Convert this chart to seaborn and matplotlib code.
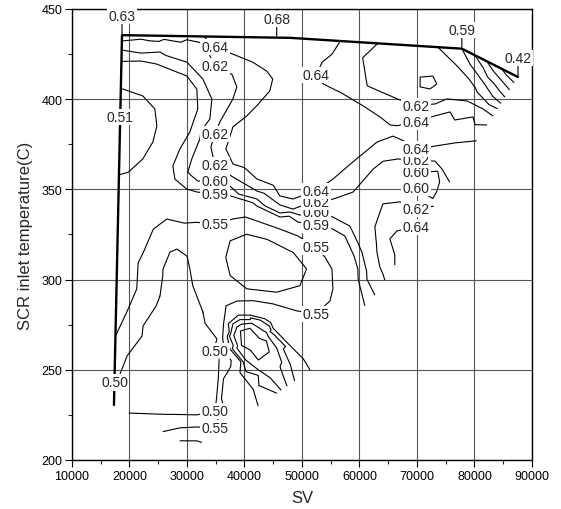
import numpy as np
import matplotlib
matplotlib.use("Agg")
import matplotlib.pyplot as plt
import matplotlib.tri as mtri
from matplotlib.ticker import MultipleLocator, FormatStrFormatter
import seaborn as sns
import pandas as pd

# ---------------------------------------------------------------- data
# measured operating path (heavy outline)
path_sv = [17300, 18700, 48000, 77800, 87560]
path_t = [230.5, 435.5, 434.0, 428.0, 412.3]

# posted efficiencies on the path
post_sv = [18700, 45600, 77800, 87560, 18420, 17420]
post_t = [435.5, 434.1, 428.0, 412.3, 390.0, 243.0]
post_eff = [0.63, 0.68, 0.59, 0.42, 0.51, 0.50]

# samples (SV, T)
iso064_west = [(34870, 428.9), (38000, 425.0), (41500, 420.5), (43910, 415.6), (44950, 411.2),
               (44430, 404.5), (42500, 397.5), (40430, 390.7), (38000, 384.6), (36780, 372.4),
               (38000, 364.1), (42170, 355.8), (46170, 346.4), (48430, 344.7), (52430, 349.3),
               (55390, 355.8), (58000, 363.0), (60080, 368.5), (63040, 376.3), (65820, 379.6),
               (69820, 372.4), (73000, 374.0), (77000, 376.0)]
iso064_north = [(55200, 425.0), (53480, 420.6), (52430, 413.4), (53650, 408.4), (57130, 402.9),
                (60500, 396.5), (63560, 390.1), (65300, 385.7), (66520, 385.2), (69820, 387.5),
                (73130, 390.7), (75730, 392.9), (79730, 390.1)]
iso064_loop = [(39300, 271.5), (40950, 273.0), (43800, 266.0), (44300, 260.0), (42400, 255.5),
               (39500, 263.5)]
iso064_se = [(65300, 322.5), (66520, 326.9), (69820, 329.3)]

iso062_main = [(22000, 433.3), (26000, 433.2), (30000, 433.0), (32260, 431.5), (33800, 425.5),
               (34870, 418.4), (37830, 413.9), (38700, 406.8), (38000, 400.1), (35740, 387.4),
               (34870, 380.7), (34170, 373.5), (34870, 363.5), (38000, 356.9), (42170, 349.1),
               (46170, 341.4), (48430, 339.1), (52430, 342.8), (55390, 344.7), (58860, 348.6),
               (62340, 361.3), (64080, 365.7), (66520, 366.9), (69820, 366.3), (73130, 365.7),
               (74350, 361.3)]
iso062_ne = [(60500, 423.0), (58860, 417.9), (59210, 412.3), (61300, 407.3), (64000, 403.5),
             (66520, 400.1), (69820, 396.4), (73130, 397.3), (75210, 400.1), (78690, 399.0),
             (81470, 394.6)]
iso062_south = [(63040, 315.3), (62690, 329.2), (64080, 341.9), (67040, 343.0), (69820, 339.1)]
iso062_bump = [(44500, 245.5), (42400, 250.0), (40200, 255.5), (38700, 262.0), (38150, 269.0),
               (38700, 273.8), (39510, 275.3), (41250, 275.8), (43860, 270.5), (45600, 262.0),
               (46470, 254.2)]

iso060_main = [(25300, 426.2), (30000, 420.6), (32780, 411.2), (34350, 400.1), (34000, 389.0),
               (32260, 377.9), (30870, 366.9), (30170, 359.6), (30870, 357.4), (31910, 354.7),
               (34870, 354.7), (37480, 351.9), (42170, 344.7), (47910, 337.5), (49650, 335.8),
               (52430, 337.3), (55390, 334.7), (58340, 329.7), (60430, 315.3), (61300, 300.3)]
iso060_bump = [(42400, 246.9), (39790, 254.3), (38050, 263.5), (37600, 270.0), (38000, 275.5),
               (39220, 277.8), (41000, 277.8), (44430, 271.2), (46750, 261.5), (47910, 253.2)]
iso060_dip = [(67040, 354.1), (69820, 359.4), (73650, 360.2), (74000, 354.1), (73480, 348.6),
              (72780, 344.7), (69820, 350.6)]
iso060_pent = [(70520, 412.3), (72780, 412.9), (73480, 408.4), (72260, 405.6), (70520, 406.8)]
iso060_fan = [(76950, 418.4), (80430, 404.0), (82500, 397.0)]

iso059_main = [(24780, 419.5), (30000, 412.9), (31740, 405.6), (31910, 394.6), (30520, 381.8),
               (28780, 372.4), (27560, 363.0), (27910, 355.8), (30000, 350.2), (31740, 348.6),
               (34870, 347.5), (37480, 346.5), (42170, 340.8), (46170, 334.7), (49300, 331.9),
               (52430, 330.5), (55390, 328.0), (57470, 324.2), (59730, 305.9)]
iso059_bump = [(41530, 239.2), (39220, 248.5), (37480, 261.5), (37000, 268.5), (37190, 275.5),
               (38920, 280.3), (41000, 280.3), (44990, 273.0), (47910, 263.4), (50230, 256.0)]
iso059_bottom = [(29600, 210.6), (31700, 210.6)]
iso059_fan = [(79200, 419.5), (81500, 409.5), (83200, 401.5)]

iso055_bulge = [(22350, 401.8), (24430, 394.6), (24780, 385.2), (24090, 376.3), (22350, 366.9),
                (19800, 359.5)]
iso055_main = [(19510, 281.9), (21250, 294.8), (22400, 315.1), (24140, 328.0), (26470, 333.6),
               (31690, 331.8), (34870, 330.8), (38000, 333.6), (42170, 332.5), (46170, 328.0),
               (49300, 324.2), (52430, 317.9), (54000, 312.5), (55220, 305.9), (55390, 294.8),
               (54870, 288.1), (52430, 281.0), (49130, 282.6), (45000, 286.5), (41500, 288.3),
               (38700, 288.1), (36800, 285.4), (36350, 275.0), (36450, 260.0), (36350, 245.0),
               (36000, 234.0), (35300, 222.0), (34870, 217.6), (31740, 218.3), (28780, 217.8)]
iso055_fan = [(81500, 417.5), (83300, 409.0), (84500, 404.0)]

iso050_arch = [(18000, 244.9), (19570, 257.7), (22350, 274.3), (25300, 290.9), (25820, 305.9),
               (27040, 315.3), (28260, 317.0), (30000, 313.1), (30520, 305.9), (31040, 296.4),
               (32780, 282.0), (35220, 267.1), (35600, 256.0), (35450, 245.0), (35150, 234.0),
               (34870, 227.2), (31740, 224.9), (27000, 225.2), (23560, 225.5)]
iso050_ellipse = [(36720, 312.4), (37480, 321.6), (40380, 325.3), (43860, 322.5), (48490, 315.1),
                  (50820, 305.9), (49650, 296.5), (45600, 292.9), (40380, 294.8), (37480, 302.2)]
iso050_fan = [(83300, 415.5), (84800, 410.0), (85600, 407.0)]
iso045_fan = [(85500, 413.5), (86300, 411.0)]

# samples along the rim of the measured region (SV, T, efficiency)
rim_samples = [
    (25000, 434.98, 0.63), (30000, 434.72, 0.632), (33000, 434.57, 0.64), (40000, 434.21, 0.665),
    (48000, 434.0, 0.675), (52000, 433.0, 0.665), (56610, 432.07, 0.64), (60000, 431.38, 0.63),
    (63040, 430.77, 0.62), (68000, 429.77, 0.61), (73650, 428.64, 0.60), (80100, 424.1, 0.55),
    (82200, 420.72, 0.50), (84800, 416.54, 0.45),
    (17300, 230.5, 0.485), (17600, 269.0, 0.55), (17815, 300.0, 0.56), (17950, 320.0, 0.565),
    (18090, 340.0, 0.563), (18210, 358.0, 0.55), (18330, 375.0, 0.525), (18540, 406.0, 0.55),
    (18590, 414.0, 0.57), (18640, 421.0, 0.59), (18680, 427.3, 0.60), (18715, 432.3, 0.62),
    (19900, 225.9, 0.50), (25800, 215.7, 0.55), (29100, 209.8, 0.595), (32000, 208.5, 0.593),
    (33500, 211.6, 0.585), (38000, 220.0, 0.565), (40000, 224.6, 0.575), (42400, 229.9, 0.59),
    (43000, 231.0, 0.594), (45650, 237.0, 0.60), (46400, 238.65, 0.62), (46900, 239.75, 0.628),
    (47400, 240.85, 0.62), (48000, 242.0, 0.612), (48700, 243.75, 0.60), (50000, 246.65, 0.595),
    (51390, 249.8, 0.59), (52000, 251.0, 0.585), (55000, 264.5, 0.575), (58000, 276.0, 0.58),
    (60950, 285.5, 0.59), (62000, 288.0, 0.595), (62690, 291.45, 0.60), (64430, 299.7, 0.62),
    (65300, 303.85, 0.63), (66000, 307.0, 0.637), (66170, 308.0, 0.64), (68000, 316.85, 0.65),
    (70600, 329.45, 0.64), (71800, 335.3, 0.63), (72900, 340.6, 0.62), (74300, 347.4, 0.605),
    (75700, 354.0, 0.62), (78000, 365.35, 0.63), (80400, 377.05, 0.64), (81300, 381.45, 0.646),
    (82170, 385.65, 0.64), (83200, 390.7, 0.62), (83500, 392.0, 0.61), (84000, 394.65, 0.60),
    (84600, 397.65, 0.59), (85300, 401.15, 0.55), (86100, 405.15, 0.50), (86900, 409.15, 0.45),
]

# interior samples (SV, T, efficiency)
inner_samples = [
    (40000, 428.5, 0.65), (45000, 428.0, 0.67), (48500, 422.0, 0.675), (49500, 410.0, 0.672),
    (48000, 395.0, 0.675), (46000, 380.0, 0.67), (42000, 375.0, 0.662), (41500, 366.0, 0.655),
    (47000, 358.0, 0.66), (52000, 360.0, 0.658), (50500, 380.0, 0.672), (54500, 395.0, 0.665),
    (55500, 370.0, 0.655), (58500, 378.0, 0.655), (50000, 430.0, 0.672), (52500, 426.0, 0.655),
    (60000, 385.0, 0.655), (63500, 383.0, 0.65), (68000, 380.5, 0.647), (72000, 382.0, 0.647),
    (76000, 384.0, 0.646), (79500, 383.5, 0.645),
    (56500, 416.0, 0.63), (58000, 426.0, 0.63), (60000, 402.0, 0.63), (66000, 393.0, 0.63),
    (72000, 393.5, 0.63), (77500, 395.7, 0.63), (81300, 390.5, 0.63),
    (64500, 418.0, 0.612), (68000, 418.0, 0.61), (71700, 409.3, 0.595), (69500, 401.5, 0.61),
    (75200, 410.0, 0.607), (78800, 403.0, 0.61), (72500, 420.0, 0.605),
    (22000, 429.8, 0.61), (28000, 429.0, 0.61), (36300, 402.0, 0.61), (34400, 383.0, 0.61),
    (32500, 366.0, 0.61), (33500, 359.5, 0.61), (22000, 423.5, 0.595), (33100, 400.0, 0.595),
    (30000, 372.0, 0.595),
    (36000, 423.0, 0.63), (41000, 410.0, 0.63), (39000, 395.0, 0.63), (35800, 377.0, 0.63),
    (37000, 365.0, 0.63),
    (44000, 349.5, 0.63), (50500, 344.0, 0.63), (57000, 352.0, 0.63), (62000, 368.0, 0.63),
    (67500, 371.5, 0.63), (73000, 370.0, 0.63),
    (58500, 339.0, 0.61), (62000, 345.0, 0.612), (65500, 353.0, 0.608), (61800, 318.0, 0.61),
    (62800, 303.0, 0.61), (61000, 333.0, 0.61), (55390, 339.7, 0.61),
    (71000, 354.5, 0.595), (69820, 362.8, 0.61), (69820, 345.0, 0.61),
    (65000, 333.0, 0.63), (68000, 335.0, 0.63), (64300, 311.0, 0.63), (67600, 322.0, 0.648),
    (20000, 340.0, 0.57), (25000, 345.0, 0.575), (30000, 338.0, 0.57), (33500, 339.0, 0.57),
    (40000, 338.5, 0.57), (47500, 330.5, 0.57), (54500, 320.0, 0.57), (57000, 310.0, 0.575),
    (20000, 310.0, 0.565), (21000, 330.0, 0.565), (27000, 400.0, 0.57), (26800, 382.0, 0.57),
    (22000, 412.0, 0.57), (24500, 362.0, 0.565), (21500, 350.0, 0.565),
    (20500, 385.0, 0.525), (22000, 390.0, 0.535),
    (45000, 280.0, 0.57), (49000, 273.0, 0.57), (53500, 275.0, 0.565), (56000, 290.0, 0.565),
    (56500, 280.0, 0.57), (55600, 285.0, 0.562),
    (57500, 300.0, 0.575), (37500, 245.0, 0.57), (39000, 235.0, 0.575), (37000, 228.0, 0.565),
    (45300, 251.0, 0.63), (41650, 265.0, 0.655),
    (25000, 221.0, 0.525), (33000, 222.0, 0.525), (35900, 262.0, 0.525), (34500, 285.0, 0.52),
    (33500, 305.0, 0.52), (30000, 322.0, 0.525), (24000, 308.0, 0.525), (20500, 270.0, 0.52),
    (23300, 292.0, 0.525), (25300, 318.0, 0.525), (29000, 323.0, 0.525), (33000, 292.0, 0.52),
    (27000, 270.0, 0.465), (22000, 245.0, 0.47), (31000, 245.0, 0.47), (33000, 250.0, 0.48),
    (28000, 300.0, 0.485), (20000, 236.0, 0.49), (26000, 236.0, 0.48),
    (20500, 252.0, 0.49), (23000, 268.0, 0.49), (25200, 283.0, 0.49), (26500, 300.0, 0.49),
    (27800, 310.0, 0.49), (29500, 308.0, 0.49), (30500, 295.0, 0.49), (32500, 276.0, 0.49),
    (34300, 262.0, 0.49), (34600, 245.0, 0.49), (33800, 236.0, 0.49), (29500, 236.0, 0.49),
    (23000, 237.0, 0.49),
    (36500, 300.0, 0.525), (53000, 302.0, 0.525), (35000, 318.0, 0.525),
    (43500, 309.0, 0.485), (39500, 310.0, 0.49), (47500, 307.0, 0.49),
    (30500, 214.3, 0.57),
]

levels = [0.45, 0.50, 0.55, 0.59, 0.60, 0.62, 0.64]

# contour label placement (level, SV, T)
label_level = [0.64, 0.62, 0.62, 0.62, 0.60, 0.59, 0.55, 0.50, 0.50, 0.55,
               0.64, 0.64, 0.62, 0.60, 0.59, 0.55, 0.55,
               0.62, 0.64, 0.64, 0.62, 0.60, 0.60, 0.62, 0.64]
label_sv = [34870] * 10 + [52430] * 7 + [69820] * 8
label_t = [428.9, 418.4, 380.7, 363.5, 354.7, 347.5, 330.8, 260.4, 227.2, 217.6,
           413.4, 349.3, 342.8, 337.3, 330.5, 317.9, 281.0,
           396.4, 387.5, 372.4, 366.3, 359.4, 350.6, 339.1, 329.3]

# ---------------------------------------------------------------- table
iso_groups = [
    (0.64, iso064_west), (0.64, iso064_north), (0.64, iso064_loop), (0.64, iso064_se),
    (0.62, iso062_main), (0.62, iso062_ne), (0.62, iso062_south), (0.62, iso062_bump),
    (0.60, iso060_main), (0.60, iso060_bump), (0.60, iso060_dip), (0.60, iso060_pent),
    (0.60, iso060_fan),
    (0.59, iso059_main), (0.59, iso059_bump), (0.59, iso059_bottom), (0.59, iso059_fan),
    (0.55, iso055_bulge), (0.55, iso055_main), (0.55, iso055_fan),
    (0.50, iso050_arch), (0.50, iso050_ellipse), (0.50, iso050_fan),
    (0.45, iso045_fan),
]
rows = [(s, t, e) for s, t, e in zip(post_sv, post_t, post_eff)]
for lev, pts in iso_groups:
    rows += [(s, t, lev) for s, t in pts]
rows += rim_samples + inner_samples
df = pd.DataFrame(rows, columns=["SV", "T", "eff"]).drop_duplicates(subset=["SV", "T"])

sv = df["SV"].to_numpy(float)
tt = df["T"].to_numpy(float)
z = df["eff"].to_numpy(float)

# Delaunay triangulation built in a screen-like scaling, used in data units;
# sliver triangles on the rim are dropped
xs = (sv - 10000.0) / 80000.0 * 460.0
ys = (tt - 200.0) / 250.0 * 451.0
tri_px = mtri.Triangulation(xs, ys)
flat = mtri.TriAnalyzer(tri_px).get_flat_tri_mask(min_circle_ratio=0.02)
tri_d = mtri.Triangulation(sv, tt, tri_px.triangles, mask=flat)

# tie-break: samples lying exactly on a level count as being on its upper side
draw_levels = [lv - 1e-4 for lv in levels]

# ---------------------------------------------------------------- plot
sns.set_style("ticks")
plt.rcParams["font.family"] = ["Liberation Sans", "DejaVu Sans"]

fig = plt.figure(figsize=(5.61, 5.10), dpi=100)
ax = fig.add_axes([0.1283, 0.0961, 0.8200, 0.8843])

ax.tricontour(tri_d, z, levels=draw_levels, colors="black", linewidths=0.8, zorder=2)

sns.lineplot(x=path_sv, y=path_t, sort=False, estimator=None, color="black",
             linewidth=1.7, ax=ax, zorder=3)

box = dict(boxstyle="square,pad=0.08", fc="white", ec="none")
order = np.argsort(label_t)
for i in order:
    ax.text(label_sv[i], label_t[i], f"{label_level[i]:.2f}", ha="center", va="center",
            fontsize=10, bbox=box, zorder=5)

for s, t, e in zip(post_sv, post_t, post_eff):
    if t > 400:
        ax.annotate(f"{e:.2f}", xy=(s, t), xytext=(0, 19), textcoords="offset pixels",
                    ha="center", va="center", fontsize=10, bbox=box, zorder=6,
                    arrowprops=dict(arrowstyle="-", color="black", lw=0.8,
                                    shrinkA=0, shrinkB=1))
    else:
        ax.text(s, t, f"{e:.2f}", ha="center", va="center", fontsize=10, bbox=box, zorder=6)

ax.set_xlim(10000, 90000)
ax.set_ylim(200, 450)
ax.xaxis.set_major_locator(MultipleLocator(10000))
ax.xaxis.set_minor_locator(MultipleLocator(5000))
ax.yaxis.set_major_locator(MultipleLocator(50))
ax.yaxis.set_minor_locator(MultipleLocator(25))
ax.xaxis.set_major_formatter(FormatStrFormatter("%d"))
ax.yaxis.set_major_formatter(FormatStrFormatter("%d"))
ax.grid(True, which="major", color="#555555", linewidth=0.8, zorder=0.5)
ax.set_axisbelow(True)
ax.tick_params(which="major", direction="out", length=5, width=0.8, labelsize=9, pad=2,
               colors="black", top=False, right=False)
ax.tick_params(which="minor", direction="out", length=3, width=0.8, top=False, right=False)
for sp in ax.spines.values():
    sp.set_color("black")
    sp.set_linewidth(1.0)
    sp.set_visible(True)
ax.set_xlabel("SV", fontsize=12, labelpad=6)
ax.set_ylabel("SCR inlet temperature(C)", fontsize=12, labelpad=6)
if ax.get_legend() is not None:
    ax.get_legend().remove()

fig.savefig("out.png", dpi=100)
